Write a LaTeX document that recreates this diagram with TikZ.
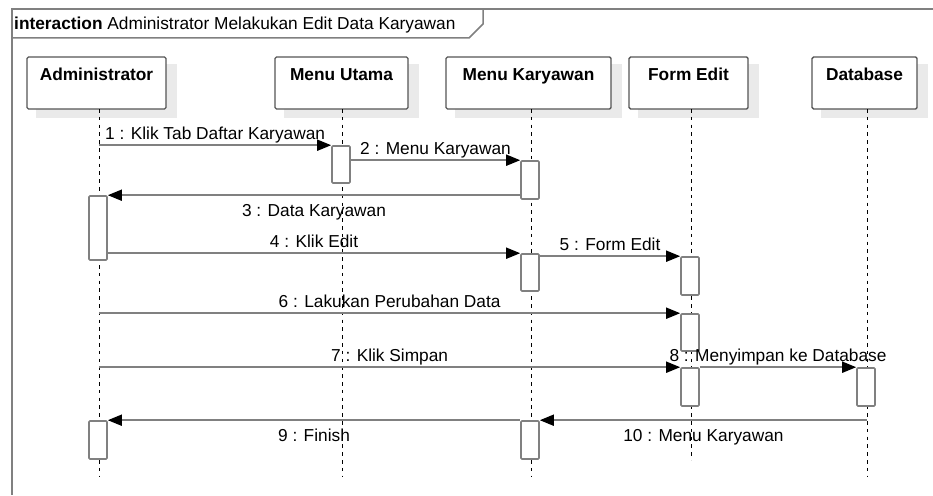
\documentclass[tikz,border=0pt]{standalone}
\usepackage{fontspec}
\setmainfont{Liberation Sans}
\usetikzlibrary{arrows.meta,calc}
\pgfdeclarelayer{background}
\pgfsetlayers{background,main}
\definecolor{linegray}{HTML}{808080}
\definecolor{boxgray}{HTML}{555555}
\definecolor{shadowgray}{HTML}{EAEAEA}
\newcommand{\diagfont}{\fontsize{17.3}{20}\selectfont}
\tikzset{
  headbox/.style={draw=boxgray, line width=1.4pt, rounded corners=1.5pt, fill=white,
    minimum height=52pt, inner sep=0pt},
  headtext/.style={font=\diagfont\bfseries, anchor=base, inner sep=0pt},
  lifeline/.style={draw=black, line width=1pt, dash pattern=on 3.5pt off 4.3pt},
  actbox/.style={draw=linegray, line width=1.6pt, rounded corners=1pt, fill=white,
    minimum width=18pt, inner sep=0pt},
  msg/.style={draw=linegray, line width=1.7pt,
    -{Triangle[length=14pt,width=11pt,color=black]}},
  msgtext/.style={font=\diagfont, anchor=base, inner sep=0pt},
  above label/.style={msgtext, yshift=5.5pt},
  below label/.style={msgtext, yshift=-21.5pt},
  frameline/.style={draw=linegray, line width=1.5pt},
}
\begin{document}
\begin{tikzpicture}[x=1pt,y=-1pt]
\useasboundingbox (0,0) rectangle (933,495);

% interaction frame and its name tag
\draw[frameline] (933,9) -- (12,9) -- (12,495);
\draw[frameline] (12,38) -- (469,38) -- (483,24) -- (483,9);
\node[anchor=base west, inner sep=0pt, font=\diagfont] (title) at (14,30)
  {\textbf{interaction} Administrator Melakukan Edit Data Karyawan};

% lifeline heads
\node[headbox, minimum width=139pt] (adm) at (96.5,83) {};
\node[headbox, minimum width=133pt] (mu)  at (341.5,83) {};
\node[headbox, minimum width=165pt] (mk)  at (528.5,83) {};
\node[headbox, minimum width=119pt] (fe)  at (688.5,83) {};
\node[headbox, minimum width=105pt] (db)  at (864.5,83) {};

% page background and the shadows behind the heads
\begin{pgfonlayer}{background}
\fill[white] (0,0) rectangle (933,495);
\foreach \n in {adm,mu,mk,fe,db}{
  \fill[shadowgray] ([xshift=10pt,yshift=-8pt]\n.south west) rectangle
                    ([xshift=10pt,yshift=-8pt]\n.north east);
}
\end{pgfonlayer}

\node[headtext] (admT) at (adm.center |- 0,80) {Administrator};
\node[headtext] (muT)  at (mu.center |- 0,80) {Menu Utama};
\node[headtext] (mkT)  at (mk.center |- 0,80) {Menu Karyawan};
\node[headtext] (feT)  at (fe.center |- 0,80) {Form Edit};
\node[headtext] (dbT)  at (db.center |- 0,80) {Database};

% lifelines
\coordinate (admL) at (99,109);  \coordinate (admE) at (99,476);
\coordinate (muL)  at (342,109); \coordinate (muE)  at (342,476);
\coordinate (mkL)  at (531,109); \coordinate (mkE)  at (531,476);
\coordinate (feL)  at (691,109); \coordinate (feE)  at (691,460);
\coordinate (dbL)  at (867,109); \coordinate (dbE)  at (867,476);
\foreach \n in {adm,mu,mk,fe,db}{ \draw[lifeline] (\n L) -- (\n E); }

% activation bars
\node[actbox, minimum height=37pt] (amu)  at (341,164.5) {};
\node[actbox, minimum height=38pt] (amk1) at (530,180) {};
\node[actbox, minimum height=64pt] (aad1) at (98,228) {};
\node[actbox, minimum height=37pt] (amk2) at (530,272.5) {};
\node[actbox, minimum height=38pt] (afe1) at (690,276) {};
\node[actbox, minimum height=37pt] (afe2) at (690,332.5) {};
\node[actbox, minimum height=38pt] (afe3) at (690,387) {};
\node[actbox, minimum height=38pt] (adb)  at (866,387) {};
\node[actbox, minimum height=38pt] (amk3) at (530,440) {};
\node[actbox, minimum height=38pt] (aad2) at (98,440) {};

% messages
\draw[msg] (amu.north west -| admL) -- node[above label] {1 : Klik Tab Daftar Karyawan} (amu.north west);
\draw[msg] (amk1.north west -| amu.east) -- node[above label] {2 : Menu Karyawan} (amk1.north west);
\draw[msg] (aad1.north east -| amk1.west) -- node[below label] {3 : Data Karyawan} (aad1.north east);
\draw[msg] (amk2.north west -| aad1.east) -- node[above label] {4 : Klik Edit} (amk2.north west);
\draw[msg] (afe1.north west -| amk2.east) -- node[above label] {5 : Form Edit} (afe1.north west);
\draw[msg] (afe2.north west -| admL) -- node[above label] {6 : Lakukan Perubahan Data} (afe2.north west);
\draw[msg] (afe3.north west -| admL) -- node[above label] {7 : Klik Simpan} (afe3.north west);
\draw[msg] (adb.north west -| afe3.east) -- node[above label] {8 : Menyimpan ke Database} (adb.north west);
\draw[msg] (aad2.north east -| amk3.west) -- node[below label] {9 : Finish} (aad2.north east);
\draw[msg] (amk3.north east -| dbL) -- node[below label] {10 : Menu Karyawan} (amk3.north east);
\end{tikzpicture}
\end{document}
